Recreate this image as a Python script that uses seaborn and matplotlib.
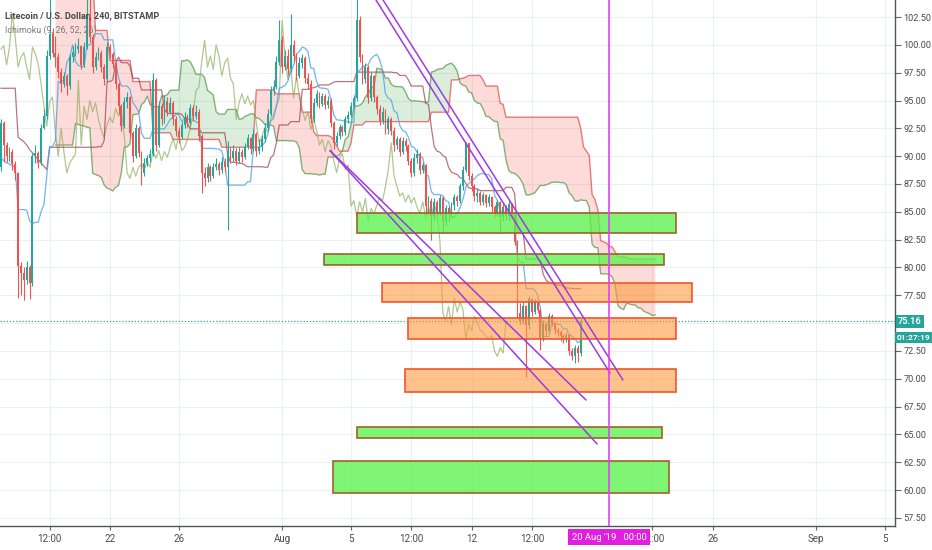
import numpy as np
import pandas as pd
import matplotlib
matplotlib.use("Agg")
import matplotlib.pyplot as plt
import matplotlib.dates as mdates
from matplotlib.patches import Rectangle
from matplotlib.transforms import blended_transform_factory
from matplotlib import font_manager
import seaborn as sns

# ---------------- data (LTC/USD, 4h bars) ----------------
first_bar = "2019-07-15 16:00"
first_open = 89.0
close = [93.0, 91.0, 90.0, 90.4, 89.3, 88.5, 80.1, 79.5, 78.9, 80.0,
         78.6, 90.0, 90.3, 89.4, 92.5, 93.6, 99.0, 101.0, 99.3, 98.9,
         97.6, 96.5, 97.2, 96.3, 98.9, 99.4, 99.6, 99.9, 98.2, 99.8,
         102.8, 100.7, 98.0, 98.9, 99.3, 98.0, 96.9, 99.8, 99.2, 98.3,
         96.5, 94.5, 92.7, 94.9, 95.3, 92.1, 90.0, 92.5, 90.3, 88.5,
         89.4, 89.8, 90.2, 96.8, 91.0, 94.5, 93.3, 95.0, 94.0, 94.8,
         93.3, 92.3, 91.7, 92.8, 93.5, 93.0, 94.3, 93.6, 94.0, 91.8,
         88.5, 88.0, 89.0, 88.2, 89.0, 89.3, 88.8, 89.5, 89.0, 90.5,
         89.8, 90.5, 89.6, 90.4, 89.9, 90.8, 91.6, 90.6, 92.0, 90.5,
         90.8, 91.5, 92.5, 93.8, 95.9, 96.2, 98.5, 100.4, 98.0, 99.0,
         97.8, 100.0, 99.0, 97.2, 98.4, 98.8, 97.0, 96.5, 93.3, 94.8,
         95.6, 94.7, 95.4, 94.6, 95.0, 93.0, 91.2, 91.8, 92.6, 92.2,
         93.3, 93.7, 94.5, 95.2, 102.2, 98.9, 96.9, 98.0, 95.2, 97.2,
         95.3, 94.2, 93.2, 94.0, 92.4, 93.3, 92.3, 91.0, 91.5, 90.4,
         91.4, 90.9, 89.6, 88.5, 89.8, 90.2, 88.8, 89.2, 85.5, 86.0,
         84.6, 85.9, 85.0, 86.2, 84.2, 85.3, 84.8, 85.6, 86.3, 86.0,
         87.3, 88.8, 91.2, 88.2, 87.3, 86.4, 86.7, 85.9, 86.5, 85.8,
         86.3, 85.4, 84.9, 85.9, 84.5, 85.4, 84.6, 85.7, 84.8, 82.3,
         75.9, 75.2, 76.5, 74.8, 77.2, 76.0, 76.9, 76.2, 73.6, 74.9,
         74.3, 75.6, 75.0, 74.4, 74.2, 73.8, 73.6, 73.9, 72.5, 72.0,
         72.8, 72.3, 75.16]
high = [93.3, 93.2, 91.3, 90.8, 90.6, 89.6, 88.6, 80.5, 80.0, 80.6,
        80.2, 90.3, 91.0, 90.5, 92.9, 94.2, 99.5, 104.5, 101.5, 100.8,
        99.3, 97.9, 97.6, 97.4, 99.2, 99.9, 100.2, 100.6, 100.0, 100.3,
        104.5, 104.5, 101.0, 99.4, 99.8, 99.5, 98.3, 100.3, 100.1, 99.4,
        98.5, 96.7, 94.7, 95.3, 95.8, 95.4, 92.3, 92.9, 92.7, 90.5,
        89.8, 90.1, 90.6, 97.5, 97.0, 95.0, 94.8, 95.5, 95.3, 95.3,
        95.0, 93.6, 92.6, 93.2, 94.0, 93.8, 94.7, 94.6, 94.6, 94.2,
        92.0, 89.0, 89.4, 89.2, 89.4, 89.8, 89.5, 89.9, 89.8, 91.4,
        90.8, 91.0, 90.7, 90.8, 90.6, 91.2, 92.0, 91.7, 92.4, 92.2,
        91.5, 91.9, 93.0, 94.2, 96.3, 96.8, 99.0, 102.2, 100.8, 99.5,
        99.6, 102.8, 100.4, 99.3, 98.9, 99.2, 99.0, 97.5, 96.8, 95.2,
        95.9, 95.8, 95.7, 95.6, 95.4, 95.2, 93.2, 92.2, 92.9, 92.8,
        93.6, 94.1, 94.9, 95.5, 104.5, 102.6, 99.2, 98.4, 98.2, 97.6,
        97.3, 95.5, 94.6, 94.4, 94.2, 93.6, 93.5, 92.6, 91.8, 91.7,
        91.7, 91.6, 91.1, 89.8, 90.3, 90.6, 90.4, 89.5, 89.3, 86.4,
        86.2, 86.2, 86.1, 86.5, 86.4, 85.6, 85.5, 85.9, 86.6, 86.5,
        87.6, 89.1, 91.3, 91.0, 88.5, 87.5, 87.1, 86.9, 86.8, 86.6,
        86.6, 86.4, 85.6, 86.1, 86.0, 85.7, 85.6, 86.0, 85.8, 84.9,
        82.5, 76.8, 76.9, 76.6, 77.4, 77.3, 77.2, 77.1, 76.3, 75.3,
        75.1, 75.9, 75.8, 75.1, 74.6, 74.4, 74.0, 74.2, 74.0, 72.8,
        73.0, 73.0, 75.4]
low = [88.7, 89.5, 89.5, 89.6, 88.8, 87.9, 77.3, 77.5, 77.1, 78.5,
       77.2, 78.3, 89.4, 88.9, 89.2, 92.4, 93.3, 98.7, 98.9, 98.0,
       97.0, 95.8, 96.2, 95.5, 96.0, 98.5, 99.0, 99.3, 97.8, 98.0,
       99.6, 100.3, 97.5, 97.7, 98.6, 97.6, 96.4, 96.7, 98.8, 97.9,
       96.0, 93.8, 92.3, 92.5, 94.3, 91.7, 89.5, 89.8, 89.9, 87.4,
       88.2, 89.1, 89.5, 90.0, 90.5, 90.8, 92.8, 93.0, 93.6, 93.8,
       92.8, 91.8, 91.2, 91.5, 92.5, 92.6, 92.8, 93.2, 93.3, 91.4,
       86.7, 87.3, 87.7, 87.8, 88.0, 88.8, 88.3, 88.5, 88.6, 83.4,
       89.4, 89.5, 89.2, 89.4, 89.5, 89.7, 90.6, 90.2, 90.4, 90.0,
       90.2, 90.5, 91.3, 92.3, 93.6, 95.5, 96.0, 98.2, 97.5, 97.7,
       97.3, 97.6, 98.5, 96.8, 97.0, 97.9, 96.6, 96.0, 93.0, 93.1,
       94.5, 94.3, 94.5, 94.2, 94.3, 92.6, 90.6, 90.9, 91.5, 91.8,
       91.9, 93.0, 93.5, 94.3, 95.0, 98.5, 96.5, 96.6, 94.8, 95.0,
       94.9, 93.8, 92.8, 92.9, 92.0, 92.0, 91.9, 90.5, 90.6, 90.0,
       90.2, 90.5, 89.2, 88.1, 88.2, 89.4, 88.4, 88.5, 85.0, 84.8,
       82.5, 84.3, 84.6, 84.7, 83.1, 83.8, 84.2, 84.6, 85.2, 85.5,
       85.8, 87.0, 88.6, 87.9, 86.9, 86.0, 85.9, 85.6, 85.6, 85.4,
       85.5, 85.0, 84.5, 84.6, 83.1, 84.2, 84.3, 84.3, 84.4, 82.0,
       75.5, 74.9, 74.9, 70.2, 74.5, 75.6, 75.8, 75.9, 72.6, 73.4,
       73.9, 74.1, 74.7, 74.0, 73.8, 73.4, 73.2, 73.3, 72.1, 71.7,
       71.4, 71.5, 72.0]

# Ichimoku (9, 26, 52, 26): values on the chart that come from bars before the
# visible window
tenkan_lead = [89.8, 89.6, 89.4, 89.3, 89.1, 89.0, 85.2, 85.2]
kijun_lead = [96.1, 96.1, 96.1, 96.1, 96.1, 96.1, 91.7, 91.5, 91.3, 91.0,
              90.6, 90.3, 90.0, 89.7, 89.4, 89.1, 88.8, 90.8, 90.8, 90.8,
              90.8, 90.8, 90.8, 90.8, 90.8]
cloud_start_bar = 19
senkou_a_lead = [91.0, 91.0, 91.0, 91.0, 91.0, 91.0, 91.0]
senkou_b_lead = [106.0, 106.0, 106.0, 106.0, 106.0, 106.0, 106.0, 106.0, 106.0, 106.0,
                 106.0, 106.0, 106.0, 106.0, 101.3, 101.3, 101.3, 101.3, 101.3, 98.6,
                 98.6, 98.6, 98.6, 98.6, 98.6, 98.6, 98.6, 96.7, 96.7, 96.7,
                 96.7, 96.7, 96.7, 96.7, 92.1, 92.1, 92.1, 92.1, 92.1, 92.1,
                 92.1, 91.5, 91.5, 91.5, 91.5, 91.5, 91.5, 91.5, 91.5, 91.5,
                 91.5, 91.5, 91.5, 91.5, 91.5, 91.5, 91.5, 91.5]

# drawn zones
zone_start = ["2019-08-05 08:24", "2019-08-03 10:20", "2019-08-06 19:12", "2019-08-08 07:26",
              "2019-08-08 03:22", "2019-08-05 08:24", "2019-08-03 22:48"]
zone_end = ["2019-08-23 21:07", "2019-08-23 04:20", "2019-08-24 19:12", "2019-08-23 21:07",
            "2019-08-23 21:07", "2019-08-23 01:26", "2019-08-23 11:17"]
zone_low = [83.09, 80.22, 76.89, 73.57, 68.81, 64.67, 59.73]
zone_high = [84.89, 81.21, 78.60, 75.46, 70.87, 65.66, 62.61]
zone_kind = ["green", "green", "orange", "orange", "orange", "green", "green"]

# drawn trend lines
trend_t0 = ["2019-08-06 10:48", "2019-08-06 20:38", "2019-08-03 18:43", "2019-08-03 18:43"]
trend_p0 = [104.03, 104.03, 90.5, 90.5]
trend_t1 = ["2019-08-20 01:00", "2019-08-20 18:58", "2019-08-19 06:58", "2019-08-18 15:36"]
trend_p1 = [70.51, 69.89, 64.14, 68.09]

marker_time = "2019-08-20 00:00"
marker_label = "20 Aug '19   00:00"
last_price = 75.16
countdown = "01:27:19"

price_ticks = [57.5, 60.0, 62.5, 65.0, 67.5, 70.0, 72.5, 75.0, 77.5, 80.0,
               82.5, 85.0, 87.5, 90.0, 92.5, 95.0, 97.5, 100.0, 102.5]
time_ticks = ["2019-07-18 12:00", "2019-07-22", "2019-07-26", "2019-08-01", "2019-08-05",
              "2019-08-08 12:00", "2019-08-12", "2019-08-15 12:00", "2019-08-22 12:00",
              "2019-08-26", "2019-09-01", "2019-09-05"]
time_tick_labels = ["12:00", "22", "26", "Aug", "5", "12:00", "12", "12:00", "12:00",
                    "26", "Sep", "5"]
view_start = "2019-07-15 14:48"
view_end = "2019-09-05 14:10"
price_min, price_max = 56.77, 104.03

# ---------------- style ----------------
sns.set_theme(style="white")
names = {f.name for f in font_manager.fontManager.ttflist}
main_font = "Liberation Sans Narrow" if "Liberation Sans Narrow" in names else "Roboto"
plt.rcParams["font.family"] = [main_font, "DejaVu Sans"]

UP = "#26A69A"
DOWN = "#EF5350"
TXT = "#4a4a4a"

def dn(s):
    return mdates.date2num(pd.Timestamp(s).to_pydatetime())

# ---------------- computations ----------------
C = np.array(close)
H = np.array(high)
L = np.array(low)
O = np.concatenate([[first_open], C[:-1]])
n = len(C)
times = pd.date_range(first_bar, periods=n + 26, freq="4h")
xs = mdates.date2num(times.to_pydatetime())

def mid(win, i):
    lo = i - win + 1
    return (H[lo:i + 1].max() + L[lo:i + 1].min()) / 2.0

tenkan = np.array([tenkan_lead[i] if i < len(tenkan_lead) else mid(9, i) for i in range(n)])
kijun = np.array([kijun_lead[i] if i < len(kijun_lead) else mid(26, i) for i in range(n)])
span_a = np.full(n + 26, np.nan)
span_b = np.full(n + 26, np.nan)
span_a[26:] = (tenkan + kijun) / 2.0
span_a[cloud_start_bar:cloud_start_bar + len(senkou_a_lead)] = senkou_a_lead
span_b[cloud_start_bar:cloud_start_bar + len(senkou_b_lead)] = senkou_b_lead
for i in range(51, n):
    span_b[i + 26] = mid(52, i)

# ---------------- figure ----------------
fig = plt.figure(figsize=(9.32, 5.5), dpi=100)
ax = fig.add_axes([0, 24 / 550, 895 / 932, 526 / 550])
ax.set_facecolor("white")

# cloud
cx = xs[cloud_start_bar:]
ca = span_a[cloud_start_bar:]
cb = span_b[cloud_start_bar:]
ax.fill_between(cx, ca, cb, where=cb >= ca, interpolate=True, color="#F44336",
                alpha=0.19, lw=0, zorder=1)
ax.fill_between(cx, ca, cb, where=ca > cb, interpolate=True, color="#2E9B2E",
                alpha=0.17, lw=0, zorder=1)

# ichimoku lines
sns.lineplot(x=cx, y=ca, ax=ax, color="#5E9A4E", lw=1.0, alpha=0.75,
             estimator=None, sort=False, legend=False, zorder=2)
sns.lineplot(x=cx, y=cb, ax=ax, color="#E0474C", lw=1.0, alpha=0.7,
             estimator=None, sort=False, legend=False, zorder=2)
sns.lineplot(x=xs[:n - 26], y=C[26:], ax=ax, color="#93AE62", lw=0.9, alpha=0.7,
             estimator=None, sort=False, legend=False, zorder=2)
sns.lineplot(x=xs[:n], y=kijun, ax=ax, color="#9C3A4A", lw=0.9, alpha=0.7,
             estimator=None, sort=False, legend=False, zorder=2.1)
sns.lineplot(x=xs[:n], y=tenkan, ax=ax, color="#4DA3E8", lw=0.9, alpha=0.8,
             estimator=None, sort=False, legend=False, zorder=2.1)

# candles
bar_w = 4 / 24 * 0.65
cols = np.where(C >= O, UP, DOWN)
ax.vlines(xs[:n], L, H, colors=cols, lw=0.8, zorder=3)
body = np.maximum(np.abs(C - O), 0.08)
ax.bar(xs[:n], body, bottom=np.minimum(O, C), width=bar_w, color=cols, lw=0, zorder=3.2)

# last price line
ax.axhline(last_price, color=UP, lw=0.9, ls=(0, (1, 1.5)), zorder=3.5)

# zones
for t0, t1, lo, hi, kind in zip(zone_start, zone_end, zone_low, zone_high, zone_kind):
    if kind == "green":
        fc, ec, al = "#5CF24E", "#A0602A", 0.78
    else:
        fc, ec, al = "#FF9A40", "#F2552C", 0.6
    x0, x1 = dn(t0), dn(t1)
    ax.add_patch(Rectangle((x0, lo), x1 - x0, hi - lo, facecolor=fc, alpha=al,
                           edgecolor="none", zorder=4))
    ax.add_patch(Rectangle((x0, lo), x1 - x0, hi - lo, facecolor="none",
                           edgecolor=ec, lw=1.2, zorder=4.1))

# trend lines
for t0, p0, t1, p1 in zip(trend_t0, trend_p0, trend_t1, trend_p1):
    ax.plot([dn(t0), dn(t1)], [p0, p1], color="#9D3BE1", lw=1.1, zorder=5)

# vertical marker
ax.axvline(dn(marker_time), color="#E040FB", lw=1.2, zorder=5)

# axes
ax.set_xlim(dn(view_start), dn(view_end))
ax.set_ylim(price_min, price_max)
ax.set_yticks(price_ticks)
# the 75.00 label sits under the last-price tag in the chart
ax.set_yticklabels(["" if abs(v - 75.0) < 1e-9 else f"{v:.2f}" for v in price_ticks])
ax.set_xticks([dn(t) for t in time_ticks])
ax.set_xticklabels(time_tick_labels)
ax.yaxis.tick_right()
ax.grid(True, color="#ECEFF3", lw=0.8)
ax.set_axisbelow(True)
for s in ["left", "top"]:
    ax.spines[s].set_visible(False)
for s in ["right", "bottom"]:
    ax.spines[s].set_visible(True)
    ax.spines[s].set_color("#555555")
    ax.spines[s].set_linewidth(1.0)
ax.tick_params(axis="y", which="both", direction="out", length=4, width=0.8,
               color="#666666", labelcolor=TXT, labelsize=6.6, pad=2,
               left=False, right=True, labelleft=False, labelright=True)
ax.tick_params(axis="x", direction="out", length=3, width=0.8, color="#666666",
               labelcolor=TXT, labelsize=7.0, pad=3, bottom=True)

# header texts
ax.text(5 / 895, 1 - 16 / 526, "Litecoin / U.S. Dollar, 240, BITSTAMP", transform=ax.transAxes,
        ha="left", va="center", fontsize=6.6, color="#4a4a4a", fontweight="bold", zorder=10)
ax.text(5 / 895, 1 - 30 / 526, "Ichimoku (9, 26, 52, 26)", transform=ax.transAxes,
        ha="left", va="center", fontsize=6.4, color="#7a7a7a", zorder=10)

# price label + countdown
yb = blended_transform_factory(ax.transAxes, ax.transData)
ax.annotate(f"{last_price:.2f}", xy=(1, last_price), xycoords=yb, xytext=(3, 0),
            textcoords="offset pixels", ha="left", va="center", fontsize=6.6,
            color="white", fontweight="bold", annotation_clip=False, zorder=20,
            bbox=dict(boxstyle="square,pad=0.25", fc=UP, ec="none"))
ax.annotate(countdown, xy=(1, last_price), xycoords=yb, xytext=(2, -16),
            textcoords="offset pixels", ha="left", va="center", fontsize=6.0,
            color="white", fontweight="bold", annotation_clip=False, zorder=20,
            bbox=dict(boxstyle="square,pad=0.25", fc=UP, ec="none"))

# marker date label
xb = blended_transform_factory(ax.transData, ax.transAxes)
ax.annotate(marker_label, xy=(dn(marker_time), 0), xycoords=xb, xytext=(0, -11),
            textcoords="offset pixels", ha="center", va="center", fontsize=6.8,
            color="white", annotation_clip=False, zorder=20,
            bbox=dict(boxstyle="square,pad=0.4", fc="#E21EE0", ec="none"))

fig.savefig("out.png", dpi=100)
